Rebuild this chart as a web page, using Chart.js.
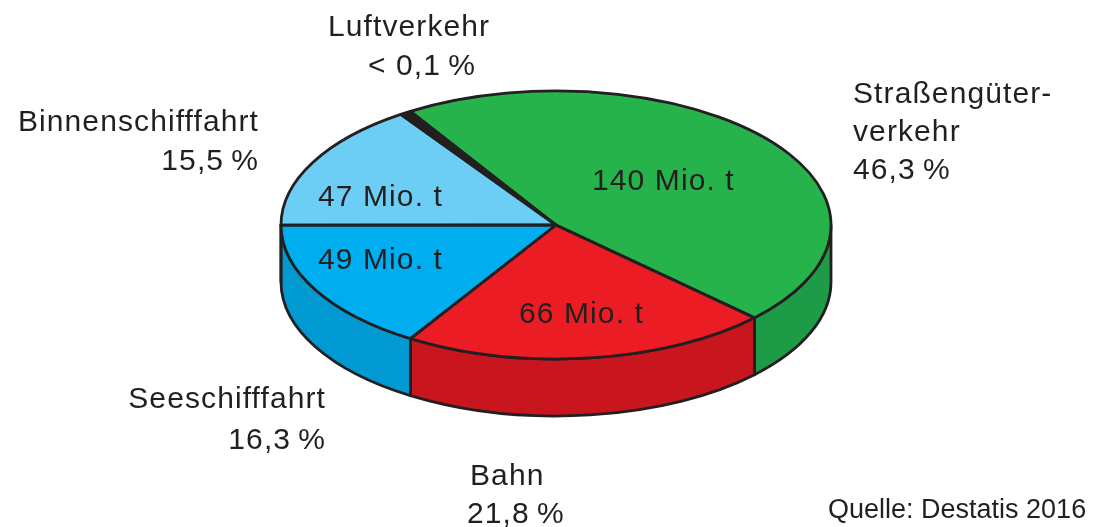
<!DOCTYPE html>
<html><head><meta charset="utf-8">
<script src="https://cdn.jsdelivr.net/npm/chart.js@4.4.0/dist/chart.umd.min.js"></script>
<style>html,body{margin:0;padding:0;background:#fff;}#wrap{width:1095px;height:527px;position:relative;overflow:hidden;}canvas{display:block;}</style>
</head><body><div id="wrap"><canvas id="c" width="1095" height="527"></canvas></div>
<script>
// ---- data ----
const categories = ["Straßengüterverkehr", "Bahn", "Seeschifffahrt", "Binnenschifffahrt", "Luftverkehr"];
const valuesMioT = [140, 66, 49, 47, 2];
const shareLabels = ["46,3\u2009%", "21,8\u2009%", "16,3\u2009%", "15,5\u2009%", "< 0,1\u2009%"];
const valueLabels = ["140 Mio. t", "66 Mio. t", "49 Mio. t", "47 Mio. t", ""];
const nameLines = [["Straßengüter-", "verkehr"], ["Bahn"], ["Seeschifffahrt"], ["Binnenschifffahrt"], ["Luftverkehr"]];
const sourceText = "Quelle: Destatis 2016";

// ---- style / layout ----
const topColors  = ["#26b34c", "#ec1c24", "#00adef", "#6dcef5", "#231f20"];
const sideColors = ["#1e9b46", "#c9161e", "#0099d1", "#4fb5e0", "#231f20"];
const INK = "#231f20";
const ELL = { cx: 556, cy: 225, rx: 275, ry: 134, depth: 57 };
const START_DEG = -122; // screen angle of first slice start
const labelLayout = [
  [[853, 103, "left"], [853, 141, "left"], [853, 179, "left"]],
  [[470, 485, "left"], [467, 523, "left"]],
  [[326, 408, "right"], [326, 449, "right"]],
  [[259, 131, "right"], [259, 170, "right"]],
  [[328, 36, "left"], [368, 75, "left"]]
];
const valueLayout = [[592, 190], [519, 323], [318, 269], [318, 206], null];
const LABEL_FONT = '30px "Liberation Sans", Arial, sans-serif';
const LABEL_SPACING = "1.1px";

function arcGeom(chart) {
  return chart.getDatasetMeta(0).data.map(a => a.getProps(["x", "y", "startAngle", "endAngle", "outerRadius"], true));
}
function frontPieces(s, e) {
  const out = [], T = Math.PI * 2;
  for (let k = Math.floor(s / T) - 1; k <= Math.ceil(e / T) + 1; k++) {
    const lo = Math.max(s, k * T), hi = Math.min(e, k * T + Math.PI);
    if (hi > lo + 1e-6) out.push([lo, hi]);
  }
  return out;
}

const LINE_W = 2.8;
const pie3d = {
  id: "pie3d",
  beforeDatasetsDraw(chart) {
    const ctx = chart.ctx, g = arcGeom(chart);
    const { cx, cy, rx, ry, depth } = ELL;
    ctx.save();
    ctx.lineJoin = "round"; ctx.lineWidth = LINE_W; ctx.strokeStyle = INK;
    g.forEach((p, i) => {
      frontPieces(p.startAngle, p.endAngle).forEach(([a, b]) => {
        ctx.beginPath();
        ctx.moveTo(cx + rx * Math.cos(a), cy + ry * Math.sin(a));
        ctx.ellipse(cx, cy, rx, ry, 0, a, b, false);
        ctx.lineTo(cx + rx * Math.cos(b), cy + ry * Math.sin(b) + depth);
        ctx.ellipse(cx, cy + depth, rx, ry, 0, b, a, true);
        ctx.closePath();
        ctx.fillStyle = sideColors[i];
        ctx.fill();
        ctx.stroke();
      });
    });
    ctx.restore();
    const a0 = g[0];
    ctx.save();
    ctx.translate(cx, cy);
    ctx.scale(rx / a0.outerRadius, ry / a0.outerRadius);
    ctx.translate(-a0.x, -a0.y);
  },
  afterDatasetsDraw(chart) {
    const ctx = chart.ctx; ctx.restore();
    const g = arcGeom(chart);
    const { cx, cy, rx, ry } = ELL;
    ctx.save();
    ctx.lineJoin = "round"; ctx.lineWidth = LINE_W; ctx.strokeStyle = INK;
    g.forEach(p => {
      ctx.beginPath();
      ctx.moveTo(cx, cy);
      ctx.lineTo(cx + rx * Math.cos(p.startAngle), cy + ry * Math.sin(p.startAngle));
      ctx.ellipse(cx, cy, rx, ry, 0, p.startAngle, p.endAngle, false);
      ctx.closePath();
      ctx.stroke();
    });
    ctx.restore();
  }
};

const textPlugin = {
  id: "texts",
  afterDraw(chart) {
    const ctx = chart.ctx;
    ctx.save();
    ctx.fillStyle = INK;
    ctx.textBaseline = "alphabetic";
    ctx.font = LABEL_FONT;
    ctx.letterSpacing = LABEL_SPACING;
    const put = (t, x, y, align) => {
      const w = ctx.measureText(t).width;
      const lx = align === "right" ? x - w : (align === "center" ? x - w / 2 : x);
      ctx.textAlign = "left";
      ctx.fillText(t, lx, y);
    };
    categories.forEach((c, i) => {
      const lines = nameLines[i].concat([shareLabels[i]]);
      lines.forEach((t, j) => { const L = labelLayout[i][j]; put(t, L[0], L[1], L[2]); });
      if (valueLabels[i] && valueLayout[i]) put(valueLabels[i], valueLayout[i][0], valueLayout[i][1], "left");
    });
    ctx.letterSpacing = "0px";
    ctx.font = '27px "Liberation Sans", Arial, sans-serif';
    put(sourceText, 828, 518, "left");
    ctx.restore();
  }
};

new Chart(document.getElementById("c"), {
  type: "pie",
  data: { labels: categories, datasets: [{ data: valuesMioT, backgroundColor: topColors, borderWidth: 0, clip: false }] },
  options: {
    responsive: false, devicePixelRatio: 1, animation: false, events: [],
    rotation: START_DEG + 90,
    layout: { padding: 10 },
    plugins: { legend: { display: false }, tooltip: { enabled: false } }
  },
  plugins: [pie3d, textPlugin]
});
</script></body></html>
